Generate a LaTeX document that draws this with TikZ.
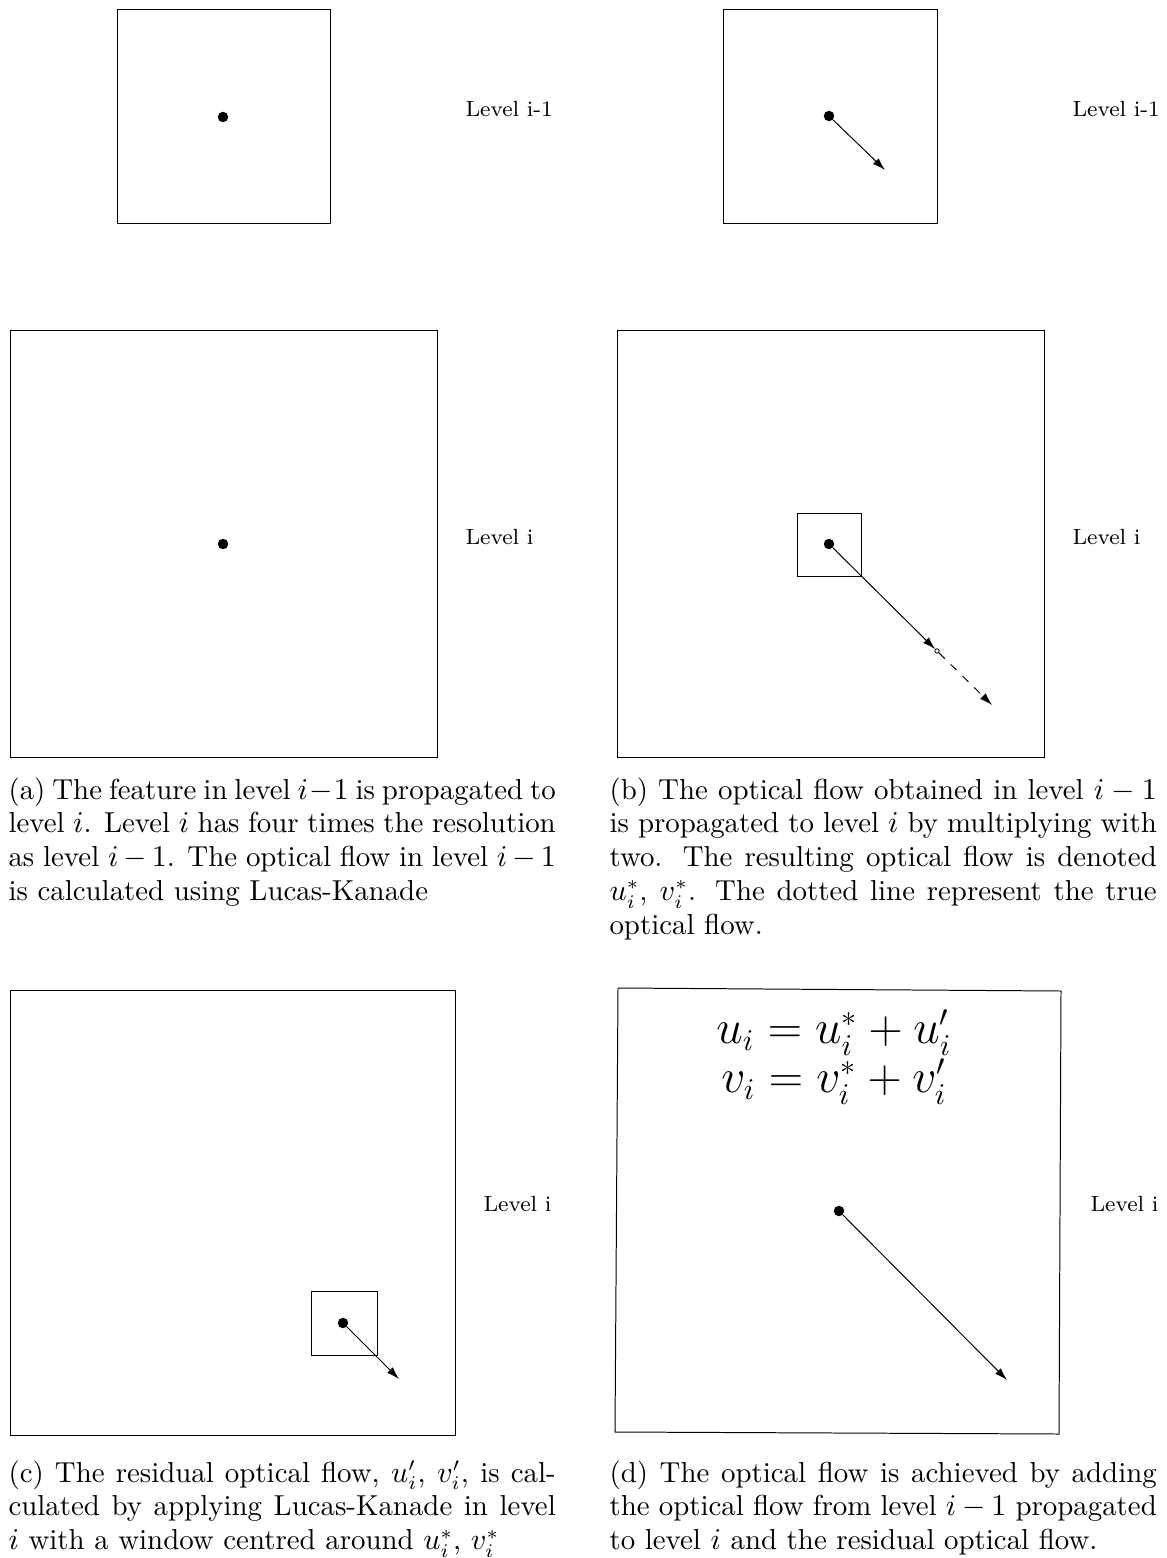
\documentclass[tikz,border=0pt]{standalone}
\usetikzlibrary{arrows.meta}
\newcommand{\capbox}[1]{\parbox[t]{199pt}{\fontsize{10.5}{12.35}\selectfont #1}}
\begin{document}
\begin{tikzpicture}[x=0.363636pt,y=-0.363636pt,
  frame/.style={draw,line width=0.36pt},
  feat/.style={circle,fill,inner sep=0pt,minimum size=3.8pt},
  flow/.style={-{Latex[length=4.6pt,width=2.9pt]},line width=0.36pt},
  lvl/.style={font=\footnotesize,anchor=base west,inner sep=0pt},
  captext/.style={anchor=base west,inner sep=0pt}]
\useasboundingbox (0,0) rectangle (1167,1558);

% ---------- (a) ----------
\draw[frame] (117,10) rectangle (330,223);
\node[feat] (a1) at (223,117) {};
\node[lvl] (la1) at (465,117) {Level i-1};
\draw[frame] (10,330) rectangle (437,757);
\node[feat] (a2) at (223,544) {};
\node[lvl] (la2) at (465,544) {Level i};
\node[captext] (capa) at (8,799) {\capbox{(a) The feature in level $i-1$ is propagated to\linebreak level $i$. Level $i$ has four times the resolution\linebreak as level $i-1$. The optical flow in level $i-1$\linebreak is calculated using Lucas-Kanade}};

% ---------- (b) ----------
\draw[frame] (723,10) rectangle (937,223);
\node[feat] (b1) at (829,116) {};
\coordinate (b1e) at (885,170);
\draw[flow] (b1) -- (b1e);
\node[lvl] (lb1) at (1072,117) {Level i-1};
\draw[frame] (617,330) rectangle (1044,757);
\draw[frame] (797,513) rectangle (861,576);
\node[feat] (b2) at (829,544) {};
\node[circle,draw,inner sep=0pt,minimum size=1.6pt,line width=0.3pt] (bm) at (937,651) {};
\coordinate (b2e) at (992,705);
\draw[flow] (b2) -- (bm);
\draw[flow,dashed] (bm) -- (b2e);
\node[lvl] (lb2) at (1072,544) {Level i};
\node[captext] (capb) at (609,799) {\capbox{(b) The optical flow obtained in level $i-1$\linebreak is propagated to level $i$ by multiplying with\linebreak two. The resulting optical flow is denoted\linebreak $u_i^*$, $v_i^*$. The dotted line represent the true\linebreak optical flow.}};

% ---------- (c) ----------
\draw[frame] (10,990) rectangle (455,1435);
\draw[frame] (311,1291) rectangle (377,1355);
\node[feat] (c1) at (343,1323) {};
\coordinate (c1e) at (399,1379);
\draw[flow] (c1) -- (c1e);
\node[lvl] (lc) at (483,1211) {Level i};
\node[captext] (capc) at (8,1482) {\capbox{(c) The residual optical flow, $u_i'$, $v_i'$, is cal-\linebreak culated by applying Lucas-Kanade in level\linebreak $i$ with a window centred around $u_i^*$, $v_i^*$}};

% ---------- (d) ----------
\draw[frame] (618,988) -- (1061,991) -- (1059,1434) -- (615,1432) -- cycle;
\node[inner sep=0pt,align=center,font=\fontsize{16.2}{17.8}\selectfont] (eq) at (834,1057) {$u_i = u_i^* + u_i'$\\ $v_i = v_i^* + v_i'$};
\node[feat] (d1) at (839,1211) {};
\coordinate (d1e) at (1007,1380);
\draw[flow] (d1) -- (d1e);
\node[lvl] (ld) at (1090,1211) {Level i};
\node[captext] (capd) at (609,1482) {\capbox{(d) The optical flow is achieved by adding\linebreak the optical flow from level $i-1$ propagated\linebreak to level $i$ and the residual optical flow.}};
\end{tikzpicture}
\end{document}
